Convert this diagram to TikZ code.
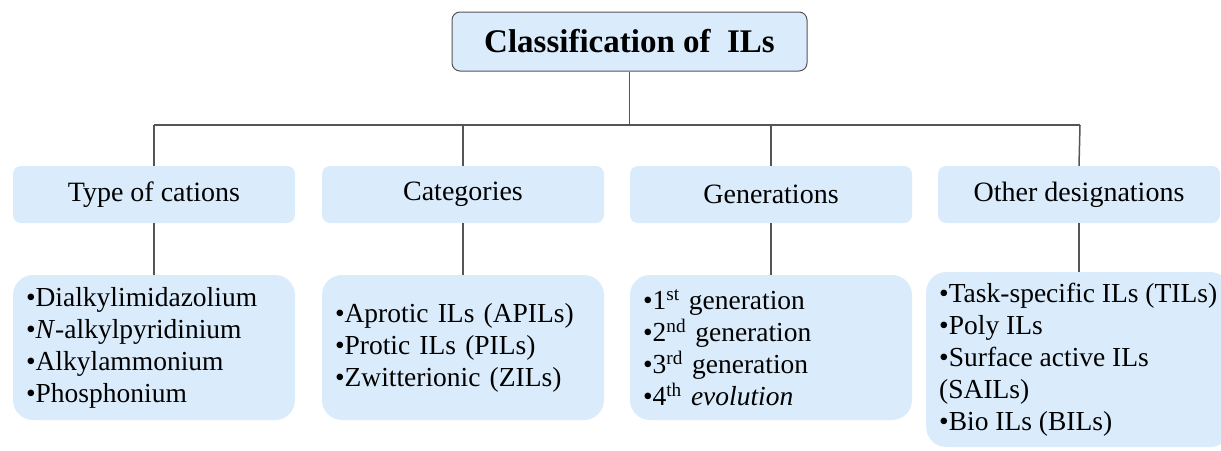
\documentclass[tikz,border=0pt]{standalone}
\usepackage{fontspec}
\setmainfont{Liberation Serif}
\definecolor{boxblue}{RGB}{218,236,251}
\definecolor{linegray}{RGB}{85,85,85}
\newcommand\fonteitens{\fontsize{27.5}{32}\selectfont\lineskiplimit=-20pt\relax}
\begin{document}
\begin{tikzpicture}[
        x=1pt, y=-1pt,
        raiz/.style={draw=linegray, fill=boxblue, rounded corners=8pt, line width=1pt, minimum width=355pt, minimum height=59pt, font=\fontsize{33}{36}\selectfont\bfseries},
        grupo/.style={fill=boxblue, rounded corners=8pt, minimum width=282pt, minimum height=57pt, font=\fontsize{28}{30}\selectfont},
        itens/.style={fill=boxblue, rounded corners=20pt, inner xsep=13pt, align=left, font=\fonteitens},
        lista/.style={itens, minimum width=282pt, minimum height=145pt, text width=256pt},
        liga/.style={draw=linegray, line width=1.5pt},
    ]
    \useasboundingbox (0,0) rectangle (1221,450);

    \node[raiz] (ils) at (629.5, 41.5) {Classification of~ ILs};

    \node[grupo] (tipo) at (154, 194.5) {Type of cations};
    \node[grupo] (cat) at (463, 194.5) {Categories};
    \node[grupo] (gen) at (771, 194.5) {Generations};
    \node[grupo] (outr) at (1079, 194.5) {Other designations};

    \node[lista] (ltipo) at (154, 347.5) {•Dialkylimidazolium\\•\textit{N}-alkylpyridinium\\•Alkylammonium\\•Phosphonium};
    \node[lista] (lcat) at (463, 347.5) {•Aprotic ILs (APILs)\\•Protic ILs (PILs)\\•Zwitterionic (ZILs)};
    \node[lista] (lgen) at (771, 347.5) {•1\textsuperscript{st} generation\\•2\textsuperscript{nd} generation\\•3\textsuperscript{rd} generation\\•4\textsuperscript{th} \textit{evolution}};
    \node[itens, anchor=west, minimum height=175pt] (loutr) at (926, 359.5) {•Task-specific ILs (TILs)\\•Poly ILs\\•Surface active ILs\\(SAILs)\\•Bio ILs (BILs)};

    \coordinate (hl) at (154, 125);
    \coordinate (hr) at (1080, 125);

    \draw[liga] (ils.south) -- (ils.south |- hl);
    \draw[liga] (hl) -- (hr);
    \draw[liga] (hl) -- (tipo.north);
    \draw[liga] (cat.north |- hl) -- (cat.north);
    \draw[liga] (gen.north |- hl) -- (gen.north);
    \draw[liga] (hr) -- (outr.north);

    \draw[liga] (tipo.south) -- (ltipo.north);
    \draw[liga] (cat.south) -- (lcat.north);
    \draw[liga] (gen.south) -- (lgen.north);
    \draw[liga] (outr.south) -- (outr.south |- loutr.north);

\end{tikzpicture}
\end{document}
